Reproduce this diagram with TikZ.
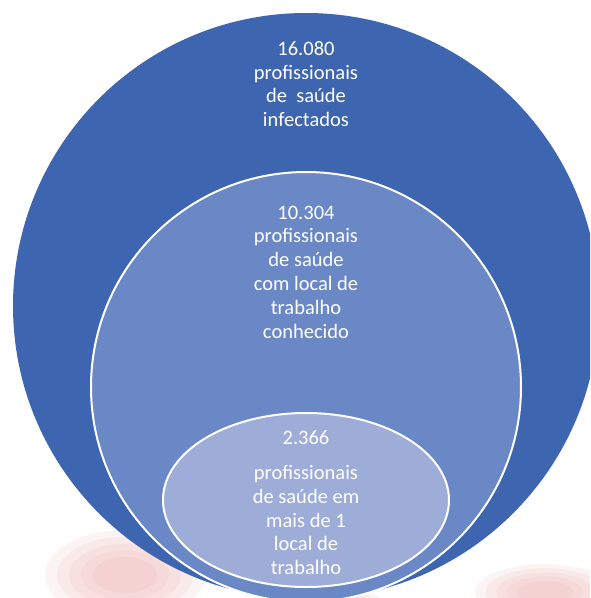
\documentclass[tikz,border=0pt]{standalone}
\usepackage{fontspec}
\setmainfont{Carlito}
\definecolor{outerblue}{HTML}{3E65B0}
\definecolor{midblue}{HTML}{6A87C6}
\definecolor{innerblue}{HTML}{9EADD8}
\definecolor{blush}{HTML}{E8A0A0}
\tikzset{
  lbl/.style={align=center, text=white, inner sep=0pt, font=\fontsize{20.5}{23.8}\selectfont},
  ring/.style={draw=white, line width=2pt},
  haze/.style={fill=blush, opacity=0.12}
}
\begin{document}
\begin{tikzpicture}[x=1pt,y=-1pt]
\useasboundingbox (0,0) rectangle (590,598);
\clip (0,0) rectangle (590,598);
% faint blurred pink shapes in the background
\foreach \s in {1.0,0.85,0.7,0.55,0.4} {
  \fill[haze] (125,575) ellipse [x radius=\s*80pt, y radius=\s*45pt];
  \fill[haze] (545,592) ellipse [x radius=\s*70pt, y radius=\s*28pt];
  \fill[haze] (320,600) ellipse [x radius=\s*60pt, y radius=\s*14pt];
}
% circles
\fill[outerblue] (306,306) circle (293pt);
\fill[midblue] (306,387) circle (215pt);
\draw[ring] (306,387) circle (215pt);
\fill[innerblue] (306,500) ellipse [x radius=143pt, y radius=87pt];
\draw[ring] (306,500) ellipse [x radius=143pt, y radius=87pt];
% labels
\node[lbl] (t1) at (306,84) {16.080\\profissionais\\de\ \ saúde\\infectados};
\node[lbl] (t2) at (306,272) {10.304\\profissionais\\de saúde\\com local de\\trabalho\\conhecido};
\node[lbl] (n3) at (306,438) {2.366};
\node[lbl] (t3) at (306,520) {profissionais\\de saúde em\\mais de 1\\local de\\trabalho};
\end{tikzpicture}
\end{document}
